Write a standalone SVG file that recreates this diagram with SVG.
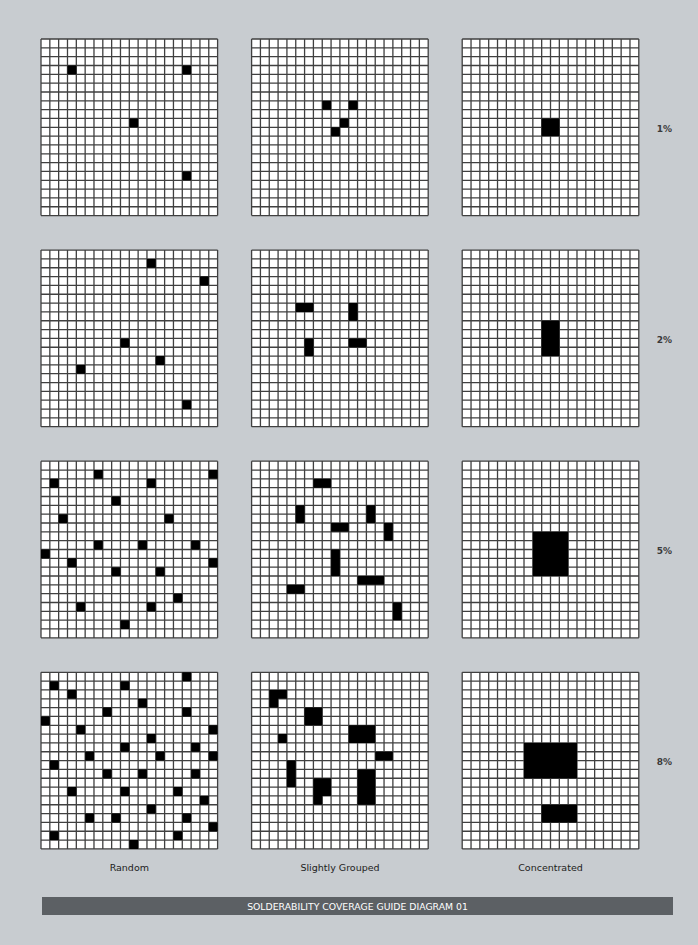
<svg xmlns="http://www.w3.org/2000/svg" xmlns:xlink="http://www.w3.org/1999/xlink" width="698" height="945" viewBox="0 0 698 945">
<style>
.gridbg{fill:#ffffff}
.gl{fill:none;stroke:#404040;stroke-width:1.3;vector-effect:non-scaling-stroke}
.cells{fill:#000000}
.pct{font-family:"DejaVu Sans","Liberation Sans",sans-serif;font-size:9px;font-weight:bold;fill:#3a3a3a;text-anchor:middle}
.col{font-family:"DejaVu Sans","Liberation Sans",sans-serif;font-size:9.5px;fill:#222222;text-anchor:middle}
.ban{font-family:"DejaVu Sans","Liberation Sans",sans-serif;font-size:9.3px;fill:#ffffff;text-anchor:middle}
</style>
<defs>
<g id="grid">
<rect class="gridbg" x="0" y="0" width="20" height="20"/>
<path class="gl" d="M0 0H20M0 1H20M0 2H20M0 3H20M0 4H20M0 5H20M0 6H20M0 7H20M0 8H20M0 9H20M0 10H20M0 11H20M0 12H20M0 13H20M0 14H20M0 15H20M0 16H20M0 17H20M0 18H20M0 19H20M0 20H20M0 0V20M1 0V20M2 0V20M3 0V20M4 0V20M5 0V20M6 0V20M7 0V20M8 0V20M9 0V20M10 0V20M11 0V20M12 0V20M13 0V20M14 0V20M15 0V20M16 0V20M17 0V20M18 0V20M19 0V20M20 0V20"/>
</g>
</defs>
<rect x="0" y="0" width="698" height="945" fill="#c8ccd0"/>

<g id="random-1" transform="translate(41,39) scale(8.83)">
<use href="#grid"/>
<path class="cells" d="M3 3h1v1h-1zM16 3h1v1h-1zM10 9h1v1h-1zM16 15h1v1h-1z"/>
</g>
<g id="grouped-1" transform="translate(251.6,39) scale(8.83)">
<use href="#grid"/>
<path class="cells" d="M8 7h1v1h-1zM11 7h1v1h-1zM10 9h1v1h-1zM9 10h1v1h-1z"/>
</g>
<g id="concentrated-1" transform="translate(462.2,39) scale(8.83)">
<use href="#grid"/>
<path class="cells" d="M9 9h2v2h-2z"/>
</g>

<g id="random-2" transform="translate(41,250.1) scale(8.83)">
<use href="#grid"/>
<path class="cells" d="M12 1h1v1h-1zM18 3h1v1h-1zM9 10h1v1h-1zM13 12h1v1h-1zM4 13h1v1h-1zM16 17h1v1h-1z"/>
</g>
<g id="grouped-2" transform="translate(251.6,250.1) scale(8.83)">
<use href="#grid"/>
<path class="cells" d="M5 6h2v1h-2zM11 6h1v2h-1zM6 10h1v2h-1zM11 10h2v1h-2z"/>
</g>
<g id="concentrated-2" transform="translate(462.2,250.1) scale(8.83)">
<use href="#grid"/>
<path class="cells" d="M9 8h2v4h-2z"/>
</g>

<g id="random-5" transform="translate(41,461.2) scale(8.83)">
<use href="#grid"/>
<path class="cells" d="M6 1h1v1h-1zM19 1h1v1h-1zM1 2h1v1h-1zM12 2h1v1h-1zM8 4h1v1h-1zM2 6h1v1h-1zM14 6h1v1h-1zM6 9h1v1h-1zM11 9h1v1h-1zM17 9h1v1h-1zM0 10h1v1h-1zM3 11h1v1h-1zM19 11h1v1h-1zM8 12h1v1h-1zM13 12h1v1h-1zM15 15h1v1h-1zM4 16h1v1h-1zM12 16h1v1h-1zM9 18h1v1h-1z"/>
</g>
<g id="grouped-5" transform="translate(251.6,461.2) scale(8.83)">
<use href="#grid"/>
<path class="cells" d="M7 2h2v1h-2zM5 5h1v2h-1zM13 5h1v2h-1zM9 7h2v1h-2zM15 7h1v2h-1zM9 10h1v3h-1zM12 13h3v1h-3zM4 14h2v1h-2zM16 16h1v2h-1z"/>
</g>
<g id="concentrated-5" transform="translate(462.2,461.2) scale(8.83)">
<use href="#grid"/>
<path class="cells" d="M8 8h4v5h-4z"/>
</g>

<g id="random-8" transform="translate(41,672.3) scale(8.83)">
<use href="#grid"/>
<path class="cells" d="M16 0h1v1h-1zM1 1h1v1h-1zM9 1h1v1h-1zM3 2h1v1h-1zM11 3h1v1h-1zM7 4h1v1h-1zM16 4h1v1h-1zM0 5h1v1h-1zM4 6h1v1h-1zM19 6h1v1h-1zM12 7h1v1h-1zM9 8h1v1h-1zM17 8h1v1h-1zM5 9h1v1h-1zM13 9h1v1h-1zM19 9h1v1h-1zM1 10h1v1h-1zM7 11h1v1h-1zM11 11h1v1h-1zM17 11h1v1h-1zM3 13h1v1h-1zM9 13h1v1h-1zM15 13h1v1h-1zM18 14h1v1h-1zM12 15h1v1h-1zM5 16h1v1h-1zM8 16h1v1h-1zM16 16h1v1h-1zM19 17h1v1h-1zM1 18h1v1h-1zM15 18h1v1h-1zM10 19h1v1h-1z"/>
</g>
<g id="grouped-8" transform="translate(251.6,672.3) scale(8.83)">
<use href="#grid"/>
<path class="cells" d="M2 2h2v1h-1v1h-1zM6 4h2v2h-2zM3 7h1v1h-1zM11 6h3v2h-3zM14 9h2v1h-2zM4 10h1v3h-1zM7 12h2v2h-1v1h-1zM12 11h2v4h-2z"/>
</g>
<g id="concentrated-8" transform="translate(462.2,672.3) scale(8.83)">
<use href="#grid"/>
<path class="cells" d="M7 8h6v4h-6zM9 15h4v2h-4z"/>
</g>

<g id="row-labels">
<text class="pct" x="664.5" y="132">1%</text>
<text class="pct" x="664.5" y="342.5">2%</text>
<text class="pct" x="664.5" y="554">5%</text>
<text class="pct" x="664.5" y="765">8%</text>
</g>
<g id="column-labels">
<text class="col" x="129.3" y="871">Random</text>
<text class="col" x="340" y="871">Slightly Grouped</text>
<text class="col" x="550.5" y="871">Concentrated</text>
</g>
<g id="banner">
<rect x="42" y="897" width="631" height="18" fill="#5c6064"/>
<text class="ban" x="357.5" y="909.5">SOLDERABILITY COVERAGE GUIDE DIAGRAM 01</text>
</g>
</svg>
